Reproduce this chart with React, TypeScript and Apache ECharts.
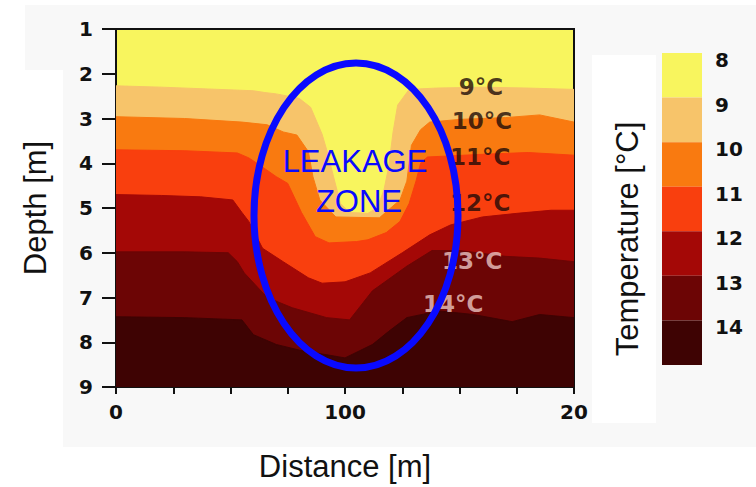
import React, { useEffect, useRef } from 'react';
import * as echarts from 'echarts';

// Temperature levels shown in the colour bar (°C)
const temperatureLevels = [8, 9, 10, 11, 12, 13, 14];
const levelColors = ['#f8f55e', '#f7c46a', '#f97a10', '#f93f0e', '#a40806', '#6c0505', '#3e0303'];

// Isotherm depths [distance m, depth m]; area below each line takes the next colour
const iso9: [number, number][] = [
  [0, 2.27], [20, 2.3], [40, 2.34], [60, 2.38], [65, 2.42], [70, 2.45], [75, 2.5], [80, 2.55],
  [85, 2.75], [90, 3.35], [92, 3.7], [95, 4.3], [98, 4.9], [102, 5.1], [110, 5.12], [114, 5.0],
  [117, 4.6], [119, 4.1], [121, 3.3], [123, 2.7], [128, 2.35], [140, 2.32], [160, 2.3],
  [180, 2.32], [200, 2.35],
];
const iso10: [number, number][] = [
  [0, 2.96], [30, 3.0], [55, 3.08], [66, 3.14], [73, 3.3], [79, 3.37], [84, 3.74], [86, 4.3],
  [89, 4.82], [96, 5.2], [115, 5.22], [124, 4.82], [127, 4.4], [129, 3.6], [133, 3.25],
  [137, 3.08], [150, 3.02], [170, 2.98], [185, 2.92], [200, 3.08],
];
const iso11: [number, number][] = [
  [0, 3.7], [30, 3.72], [53, 3.77], [58, 3.88], [63, 4.05], [70, 4.3], [75, 4.45], [81, 5.1],
  [87, 5.64], [93, 5.78], [105, 5.75], [110, 5.71], [118, 5.55], [124, 5.3], [128, 4.9],
  [131, 4.4], [133, 4.0], [136, 3.86], [160, 3.8], [180, 3.76], [200, 3.82],
];
const iso12: [number, number][] = [
  [0, 4.7], [20, 4.72], [37, 4.75], [51, 4.82], [55, 5.1], [58, 5.3], [64, 5.9], [73, 6.2],
  [84, 6.56], [90, 6.68], [100, 6.65], [111, 6.45], [125, 6.0], [137, 5.6], [146, 5.38],
  [160, 5.2], [175, 5.12], [190, 5.05], [200, 5.05],
];
const iso13: [number, number][] = [
  [0, 5.98], [30, 5.98], [49, 6.0], [53, 6.2], [56, 6.45], [66, 7.0], [77, 7.23], [92, 7.45],
  [102, 7.5], [112, 6.85], [127, 6.3], [138, 5.95], [150, 5.95], [170, 6.08], [185, 6.12],
  [200, 6.2],
];
const iso14: [number, number][] = [
  [0, 7.43], [30, 7.45], [55, 7.5], [60, 7.83], [70, 8.05], [82, 8.2], [92, 8.28], [100, 8.35],
  [112, 8.05], [119, 7.76], [127, 7.45], [141, 7.3], [156, 7.38], [173, 7.54], [185, 7.38],
  [200, 7.45],
];
const isotherms = [iso9, iso10, iso11, iso12, iso13, iso14];

// Contour labels [distance, depth, text]
const contourLabels: [number, number, string][] = [
  [159.4, 2.3, '9°C'],
  [159.8, 3.06, '10°C'],
  [159, 3.86, '11°C'],
  [159, 4.89, '12°C'],
  [155.5, 6.18, '13°C'],
  [147.2, 7.15, '14°C'],
];
const lightLabelTexts = ['13°C', '14°C'];

const xTickLabels: Record<number, string> = { 0: '0', 100: '100', 200: '20' };

const BOLD = '"DejaVu Sans", Verdana, sans-serif';
const SANS = '"Liberation Sans", Arial, sans-serif';

export default function App() {
  const ref = useRef<HTMLDivElement>(null);

  useEffect(() => {
    const chart = echarts.init(ref.current as HTMLDivElement, null, { renderer: 'svg' });

    const bandSeries = isotherms.map((iso, i) => ({
      type: 'line',
      xAxisIndex: 0,
      yAxisIndex: 0,
      data: iso,
      showSymbol: false,
      symbol: 'none',
      silent: true,
      lineStyle: { width: 1, color: levelColors[i + 1] },
      areaStyle: { color: levelColors[i + 1], opacity: 1, origin: 'end' },
    }));

    const colorBarSeries = temperatureLevels.map((lvl, i) => ({
      type: 'bar',
      xAxisIndex: 1,
      yAxisIndex: 1,
      stack: 'cb',
      barWidth: '100%',
      silent: true,
      data: [(temperatureLevels[i + 1] ?? lvl + 1) - lvl],
      itemStyle: { color: levelColors[i] },
    }));

    const labelSeries = {
      type: 'scatter',
      xAxisIndex: 0,
      yAxisIndex: 0,
      symbolSize: 1,
      silent: true,
      z: 5,
      itemStyle: { color: 'rgba(0,0,0,0)' },
      data: contourLabels.map(([d, z, t]) => ({
        value: [d, z],
        label: {
          show: true,
          position: 'inside',
          formatter: t,
          color: lightLabelTexts.includes(t) ? '#ecc8c4' : '#1c0a08',
          fontFamily: BOLD,
          fontWeight: 'bold',
          fontSize: 23,
        },
      })),
    };

    const option = {
      animation: false,
      backgroundColor: '#ffffff',
      grid: [
        {
          left: 116, top: 29, width: 458, height: 358,
          show: true, backgroundColor: levelColors[0], borderColor: '#111', borderWidth: 2,
        },
        { left: 662, top: 53, width: 40, height: 312 },
      ],
      xAxis: [
        {
          type: 'value', gridIndex: 0, min: 0, max: 200, interval: 25,
          name: 'Distance [m]', nameLocation: 'middle', nameGap: 64,
          nameTextStyle: { fontFamily: SANS, fontSize: 31, color: '#111' },
          axisLine: { show: true, lineStyle: { color: '#111', width: 2 } },
          axisTick: { show: true, length: 7, lineStyle: { color: '#111', width: 2 } },
          axisLabel: {
            formatter: (v: number) => xTickLabels[v] ?? '',
            fontFamily: BOLD, fontWeight: 'bold', fontSize: 20, color: '#111', margin: 15,
            showMinLabel: true, showMaxLabel: true,
          },
          splitLine: { show: false },
        },
        { type: 'category', gridIndex: 1, data: ['T'], show: false },
      ],
      yAxis: [
        {
          type: 'value', gridIndex: 0, inverse: true, min: 1, max: 9, interval: 1,
          name: 'Depth [m]', nameLocation: 'middle', nameGap: 65,
          nameTextStyle: { fontFamily: SANS, fontSize: 31, color: '#111' },
          axisLine: { show: true, lineStyle: { color: '#111', width: 2 } },
          axisTick: { show: true, length: 14, lineStyle: { color: '#111', width: 2 } },
          axisLabel: {
            fontFamily: BOLD, fontWeight: 'bold', fontSize: 20, color: '#111', margin: 23,
            showMinLabel: true, showMaxLabel: true,
          },
          splitLine: { show: false },
        },
        {
          type: 'value', gridIndex: 1, inverse: true, min: 0, max: 7, interval: 1,
          position: 'right',
          axisLine: { show: false },
          axisTick: { show: false },
          splitLine: { show: false },
          axisLabel: {
            formatter: (v: number) => (v < temperatureLevels.length ? String(temperatureLevels[v]) : ''),
            fontFamily: BOLD, fontWeight: 'bold', fontSize: 20, color: '#111', margin: 13,
            align: 'left', verticalAlign: 'top', lineHeight: 14,
            showMinLabel: true, showMaxLabel: true,
          },
        },
      ],
      graphic: [
        { type: 'rect', z: -100, silent: true, shape: { x: 63, y: 5, width: 693, height: 442 }, style: { fill: '#f8f8f8' } },
        { type: 'rect', z: -100, silent: true, shape: { x: 25, y: 5, width: 38, height: 65 }, style: { fill: '#f8f8f8' } },
        { type: 'rect', z: -99, silent: true, shape: { x: 592, y: 55, width: 64, height: 368 }, style: { fill: '#ffffff' } },
        {
          type: 'ellipse', z: 100, silent: true,
          shape: { cx: 356, cy: 215.5, rx: 102, ry: 152.5 },
          style: { fill: 'none', stroke: '#0a0aff', lineWidth: 7 },
        },
        {
          type: 'text', z: 101, silent: true, x: 355, y: 161,
          style: { text: 'LEAKAGE', fill: '#0a0aff', fontFamily: SANS, fontSize: 31, align: 'center', verticalAlign: 'middle' },
        },
        {
          type: 'text', z: 101, silent: true, x: 359, y: 201,
          style: { text: 'ZONE', fill: '#0a0aff', fontFamily: SANS, fontSize: 31, align: 'center', verticalAlign: 'middle' },
        },
        {
          type: 'text', z: 101, silent: true, x: 627, y: 239, rotation: Math.PI / 2,
          style: { text: 'Temperature [°C]', fill: '#111', fontFamily: SANS, fontSize: 31, align: 'center', verticalAlign: 'middle' },
        },
      ],
      series: [...bandSeries, labelSeries, ...colorBarSeries],
    };

    chart.setOption(option as any);
    return () => chart.dispose();
  }, []);

  return (
    <div
      ref={ref}
      style={{ position: 'fixed', left: 0, top: 0, width: 756, height: 487 }}
    />
  );
}
